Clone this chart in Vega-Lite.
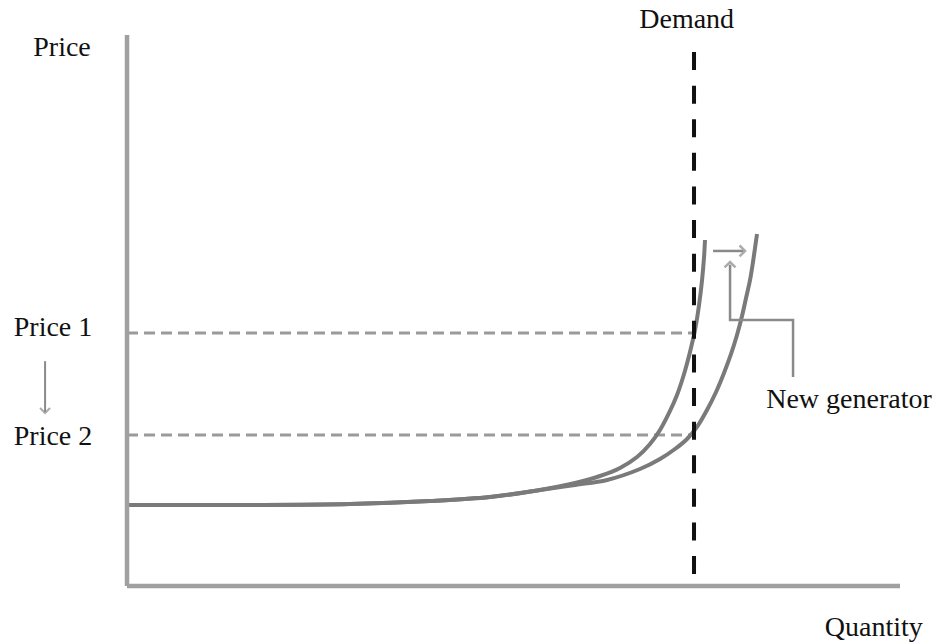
{
  "$schema": "https://vega.github.io/schema/vega-lite/v6.json",
  "width": 941,
  "height": 644,
  "autosize": {"type": "fit", "contains": "padding"},
  "padding": 0,
  "background": "white",
  "config": {"view": {"stroke": null}},
  "datasets": {
    "axes": [
      {"axis": "y", "q": 0, "p": 0}, {"axis": "y", "q": 0, "p": 100},
      {"axis": "x", "q": 0, "p": 0}, {"axis": "x", "q": 100, "p": 0}
    ],
    "demand": [{"order": 1, "q": 73.35, "p": 96.9}, {"order": 2, "q": 73.35, "p": 1.45}],
    "prices": [
      {"level": "Price 1", "q": 0, "p": 45.9}, {"level": "Price 1", "q": 73.35, "p": 45.9},
      {"level": "Price 2", "q": 0, "p": 27.4}, {"level": "Price 2", "q": 73.35, "p": 27.4}
    ],
    "supply": [
      {"series": "Original", "q": 0, "p": 14.7}, {"series": "Original", "q": 15.91, "p": 14.7},
      {"series": "Original", "q": 28.85, "p": 14.88}, {"series": "Original", "q": 39.2, "p": 15.43},
      {"series": "Original", "q": 46.96, "p": 16.15}, {"series": "Original", "q": 53.43, "p": 17.42},
      {"series": "Original", "q": 57.96, "p": 18.69}, {"series": "Original", "q": 61.19, "p": 19.96},
      {"series": "Original", "q": 63.78, "p": 21.42}, {"series": "Original", "q": 65.98, "p": 23.41},
      {"series": "Original", "q": 67.66, "p": 25.77}, {"series": "Original", "q": 68.95, "p": 28.31},
      {"series": "Original", "q": 70.12, "p": 31.4}, {"series": "Original", "q": 71.15, "p": 34.66},
      {"series": "Original", "q": 72.06, "p": 38.48}, {"series": "Original", "q": 72.83, "p": 42.47},
      {"series": "Original", "q": 73.48, "p": 46.46}, {"series": "Original", "q": 74.0, "p": 51.0},
      {"series": "Original", "q": 74.39, "p": 55.54}, {"series": "Original", "q": 74.64, "p": 59.53},
      {"series": "Original", "q": 74.77, "p": 62.79},
      {"series": "New", "q": 0, "p": 14.7}, {"series": "New", "q": 15.91, "p": 14.7},
      {"series": "New", "q": 28.85, "p": 14.88}, {"series": "New", "q": 39.2, "p": 15.43},
      {"series": "New", "q": 46.96, "p": 16.15}, {"series": "New", "q": 53.43, "p": 17.42},
      {"series": "New", "q": 57.96, "p": 18.33}, {"series": "New", "q": 62.1, "p": 19.24},
      {"series": "New", "q": 66.36, "p": 21.23}, {"series": "New", "q": 68.95, "p": 23.05},
      {"series": "New", "q": 70.89, "p": 24.86}, {"series": "New", "q": 72.45, "p": 26.68},
      {"series": "New", "q": 73.74, "p": 28.86}, {"series": "New", "q": 75.03, "p": 31.94},
      {"series": "New", "q": 76.2, "p": 35.21}, {"series": "New", "q": 77.23, "p": 38.66},
      {"series": "New", "q": 78.14, "p": 42.11}, {"series": "New", "q": 78.91, "p": 45.55},
      {"series": "New", "q": 79.56, "p": 49.0}, {"series": "New", "q": 80.08, "p": 52.27},
      {"series": "New", "q": 80.6, "p": 55.54}, {"series": "New", "q": 80.98, "p": 58.8},
      {"series": "New", "q": 81.24, "p": 61.34}, {"series": "New", "q": 81.5, "p": 63.88}
    ],
    "bracket": [
      {"order": 1, "q": 78.01, "p": 58.3}, {"order": 2, "q": 78.01, "p": 48.28},
      {"order": 3, "q": 86.16, "p": 48.28}, {"order": 4, "q": 86.16, "p": 37.93}
    ],
    "shift": [{"q": 75.81, "p": 60.8}, {"q": 79.7, "p": 60.8}],
    "priceArrow": [{"q": -10.6, "p": 40.8}, {"q": -10.6, "p": 31.6}],
    "heads": [
      {"dir": "right", "q": 79.95, "p": 60.8},
      {"dir": "up", "q": 78.01, "p": 58.8},
      {"dir": "down", "q": -10.6, "p": 31.4}
    ],
    "labels": [
      {"text": "Price", "q": -8.41, "p": 97.6},
      {"text": "Demand", "q": 72.4, "p": 102.7},
      {"text": "Price 1", "q": -9.57, "p": 46.8},
      {"text": "Price 2", "q": -9.57, "p": 27.0},
      {"text": "New generator", "q": 93.4, "p": 33.8},
      {"text": "Quantity", "q": 96.6, "p": -7.62}
    ]
  },
  "encoding": {
    "x": {"field": "q", "type": "quantitative", "scale": {"domain": [-16.43, 105.3], "nice": false, "zero": false}, "axis": null},
    "y": {"field": "p", "type": "quantitative", "scale": {"domain": [-10.53, 106.35], "nice": false, "zero": false}, "axis": null}
  },
  "layer": [
    {
      "data": {"name": "prices"},
      "mark": {"type": "line", "color": "#9a9a9a", "strokeWidth": 3, "strokeDash": [11, 6]},
      "encoding": {"detail": {"field": "level"}}
    },
    {
      "data": {"name": "supply"},
      "mark": {"type": "line", "color": "#7a7a7a", "strokeWidth": 4, "interpolate": "catmull-rom"},
      "encoding": {"detail": {"field": "series"}}
    },
    {
      "data": {"name": "demand"},
      "mark": {"type": "line", "color": "#111111", "strokeWidth": 4, "strokeDash": [18, 15.6]},
      "encoding": {"order": {"field": "order"}}
    },
    {
      "data": {"name": "axes"},
      "mark": {"type": "line", "color": "#a0a0a0", "strokeWidth": 4.5},
      "encoding": {"detail": {"field": "axis"}}
    },
    {
      "data": {"name": "bracket"},
      "mark": {"type": "line", "color": "#8a8a8a", "strokeWidth": 2.5},
      "encoding": {"order": {"field": "order"}}
    },
    {
      "data": {"name": "shift"},
      "mark": {"type": "line", "color": "#8a8a8a", "strokeWidth": 2.5},
      "encoding": {}
    },
    {
      "data": {"name": "priceArrow"},
      "mark": {"type": "line", "color": "#8a8a8a", "strokeWidth": 2},
      "encoding": {}
    },
    {
      "data": {"name": "heads"},
      "transform": [{"filter": "datum.dir === 'right'"}],
      "mark": {"type": "point", "shape": "M-1,-1L0,0L-1,1", "size": 120, "filled": false, "color": "#8a8a8a", "strokeWidth": 2.5}
    },
    {
      "data": {"name": "heads"},
      "transform": [{"filter": "datum.dir === 'up'"}],
      "mark": {"type": "point", "shape": "M-1,1L0,0L1,1", "size": 120, "filled": false, "color": "#8a8a8a", "strokeWidth": 2.5}
    },
    {
      "data": {"name": "heads"},
      "transform": [{"filter": "datum.dir === 'down'"}],
      "mark": {"type": "point", "shape": "M-1,-1L0,0L1,-1", "size": 100, "filled": false, "color": "#8a8a8a", "strokeWidth": 2}
    },
    {
      "data": {"name": "labels"},
      "mark": {"type": "text", "font": "Liberation Serif", "fontSize": 28, "color": "#111111", "align": "center", "baseline": "middle"},
      "encoding": {"text": {"field": "text"}}
    }
  ]
}
